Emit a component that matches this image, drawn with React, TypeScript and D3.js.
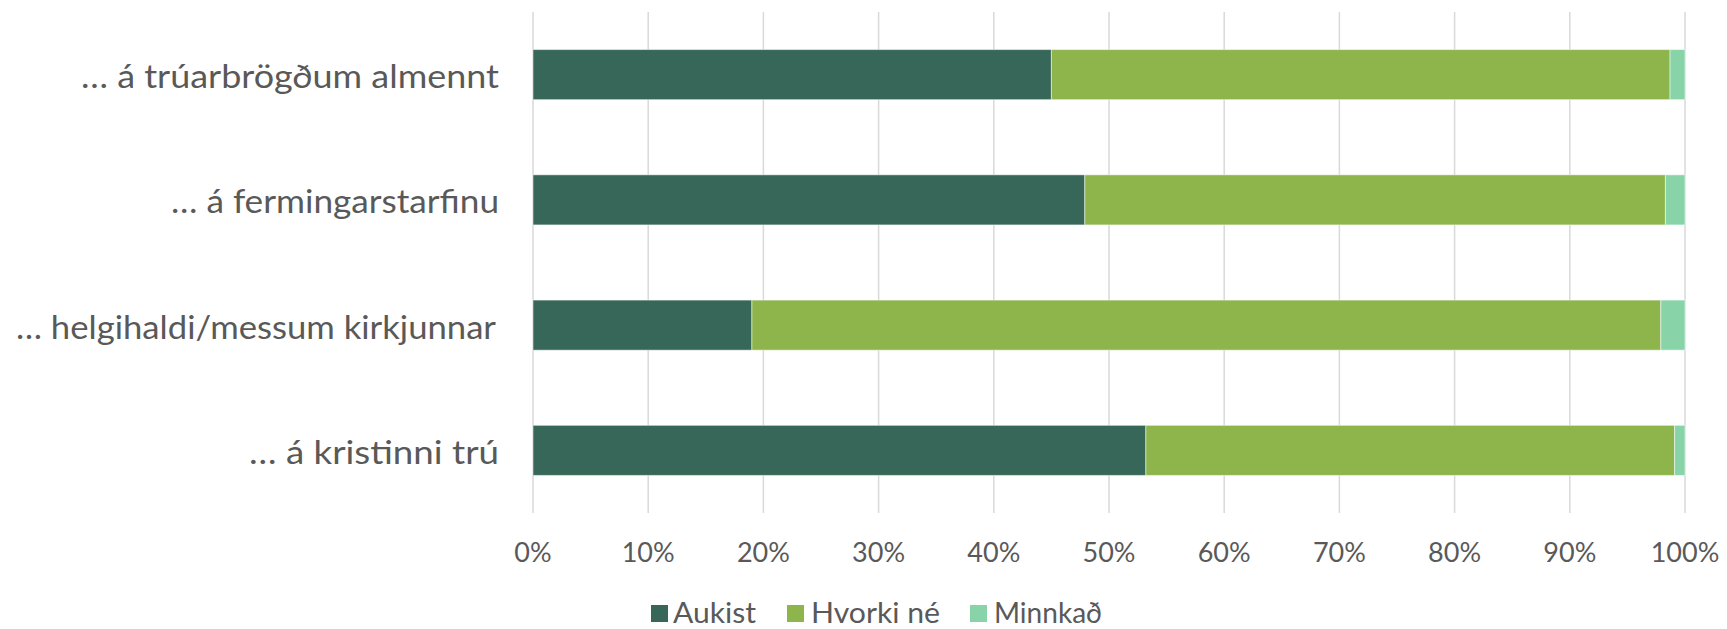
import React from "react";
import * as d3 from "d3";

const categories = [
  "… á trúarbrögðum almennt",
  "… á fermingarstarfinu",
  "… helgihaldi/messum kirkjunnar",
  "… á kristinni trú",
];
const seriesNames = ["Aukist", "Hvorki né", "Minnkað"];
const aukist = [45.0, 47.9, 19.0, 53.2];
const hvorki = [53.7, 50.4, 78.9, 45.9];
const minnkad = [1.3, 1.7, 2.1, 0.9];
const colors = ["#376758", "#8db54c", "#88d4a8"];
const tickValues = [0, 10, 20, 30, 40, 50, 60, 70, 80, 90, 100];

// layout: rendered widths of labels in the reference (Gill Sans substitute)
const labelWidths = [418, 328, 480, 250];
const labelRight = [499, 499, 496, 499];

const W = 1727;
const H = 629;
const FONT = "Lato, 'Open Sans', sans-serif";
const TEXT = "#595959";

export default function App() {
  const x = d3.scaleLinear().domain([0, 100]).range([533, 1685]);
  const y = d3.scaleBand().domain(categories).range([12, 513]).paddingInner(0.6).paddingOuter(0.3);

  const rows = categories.map((c, i) => ({ cat: c, Aukist: aukist[i], "Hvorki né": hvorki[i], Minnkað: minnkad[i] }));
  const stack = d3.stack<any>().keys(seriesNames)(rows);

  const legendItems = [
    { name: seriesNames[0], sx: 651, tx: 673, w: 83 },
    { name: seriesNames[1], sx: 787, tx: 811, w: 129 },
    { name: seriesNames[2], sx: 970, tx: 994, w: 108 },
  ];

  return (
    <svg width={W} height={H} style={{ position: "absolute", left: 0, top: 0, background: "#fff" }}>
      <g>
        {tickValues.map((t) => (
          <line key={t} x1={x(t)} x2={x(t)} y1={12} y2={513} stroke="#d9d9d9" strokeWidth={1.5} />
        ))}
      </g>
      <g>
        {stack.map((layer, si) => (
          <g key={seriesNames[si]} fill={colors[si]}>
            {layer.map((d, i) => (
              <rect
                key={i}
                x={x(d[0])}
                y={y(categories[i])!}
                width={Math.max(0, x(d[1]) - x(d[0]))}
                height={y.bandwidth()}
                stroke="#ffffff"
                strokeOpacity={0.5}
                strokeWidth={1}
              />
            ))}
          </g>
        ))}
      </g>
      <g fontFamily={FONT} fill={TEXT} fontSize={33}>
        {categories.map((c, i) => (
          <text
            key={c}
            x={labelRight[i] - labelWidths[i]}
            y={y(c)! + y.bandwidth() / 2 + 13.5}
            textLength={labelWidths[i]}
            lengthAdjust="spacingAndGlyphs"
          >
            {c}
          </text>
        ))}
      </g>
      <g fontFamily={FONT} fill={TEXT} fontSize={27}>
        {tickValues.map((t) => (
          <text key={t} x={x(t)} y={562} textAnchor="middle">
            {t + "%"}
          </text>
        ))}
      </g>
      <g fontFamily={FONT} fill={TEXT} fontSize={29}>
        {legendItems.map((l, i) => (
          <g key={l.name}>
            <rect x={l.sx} y={605} width={17} height={17} fill={colors[i]} />
            <text x={l.tx} y={623} textLength={l.w} lengthAdjust="spacingAndGlyphs">
              {l.name}
            </text>
          </g>
        ))}
      </g>
    </svg>
  );
}
